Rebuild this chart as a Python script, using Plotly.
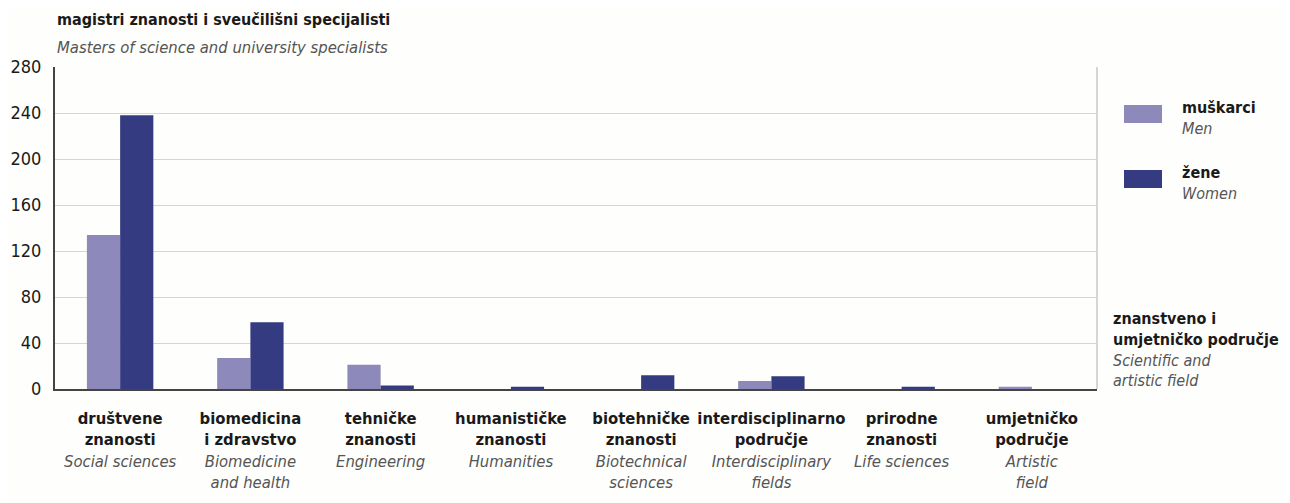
import plotly.graph_objects as go

categories_hr = ["društvene<br>znanosti", "biomedicina<br>i zdravstvo", "tehničke<br>znanosti",
                 "humanističke<br>znanosti", "biotehničke<br>znanosti", "interdisciplinarno<br>područje",
                 "prirodne<br>znanosti", "umjetničko<br>područje"]
categories_en = ["Social sciences", "Biomedicine<br>and health", "Engineering", "Humanities",
                 "Biotechnical<br>sciences", "Interdisciplinary<br>fields", "Life sciences", "Artistic<br>field"]
men = [134, 27, 21, 0, 0, 7, 0, 2]
women = [238, 58, 3, 2, 12, 11, 2, 0]
yticks = [0, 40, 80, 120, 160, 200, 240, 280]

FONT = "DejaVu Sans Condensed, Liberation Sans Narrow, sans-serif"
MEN_C = "#8e89bb"
WOMEN_C = "#353b81"
GREY = "#555555"
DARK = "#1a1a1a"

def bold_lines(s):
    return "<br>".join(f"<b>{p}</b>" for p in s.split("<br>"))

def ital_lines(s):
    return "<br>".join(f"<span style='color:{GREY}'><i>{p}</i></span>" for p in s.split("<br>"))

cat_ids = [f"c{i}" for i in range(len(categories_hr))]
ticktext = [bold_lines(h) + "<br>" + ital_lines(e) for h, e in zip(categories_hr, categories_en)]

fig = go.Figure()
fig.add_trace(go.Bar(x=cat_ids, y=men, name="muškarci", marker=dict(color=MEN_C, line=dict(width=0))))
fig.add_trace(go.Bar(x=cat_ids, y=women, name="žene", marker=dict(color=WOMEN_C, line=dict(width=0))))

OFF = 8  # page body margin
L, T = 55 - OFF, 67 - OFF
pw, ph = 1042, 322
W, H = 1290 - OFF, 503 - OFF
R = W - L - pw
B = H - T - ph

def px(x):
    return (x - OFF - L) / pw

def py(y):
    return (T + ph - (y - OFF)) / ph

fig.update_layout(
    width=W, height=H,
    margin=dict(l=L, r=R, t=T, b=B, autoexpand=False),
    paper_bgcolor="#fefefc", plot_bgcolor="#fefefc",
    barmode="group", bargap=0.49, bargroupgap=0,
    showlegend=False,
    font=dict(family=FONT, color=DARK, size=16),
    xaxis=dict(type="category", tickmode="array", tickvals=cat_ids, ticktext=ticktext,
               tickangle=0, automargin=False,
               showline=True, linecolor="#444444", linewidth=2, ticks="",
               tickfont=dict(size=16.5, family=FONT, color=DARK),
               showgrid=False, ticklabelstandoff=13, range=[-0.5, 7.5], fixedrange=True),
    yaxis=dict(range=[0, 280], tickvals=yticks, showgrid=True, gridcolor="#d6d6d6", gridwidth=1,
               automargin=False,
               showline=True, linecolor="#444444", linewidth=2, ticks="", zeroline=False,
               tickfont=dict(size=18, family=FONT, color=DARK), ticklabelstandoff=8,
               fixedrange=True),
)

# right border of plot area
fig.add_shape(type="line", xref="paper", yref="paper", x0=1, x1=1, y0=0, y1=1,
              line=dict(color="#c8c8c8", width=1.5))

# titles
fig.add_annotation(xref="paper", yref="paper", x=px(55), y=py(20), xanchor="left", yanchor="middle",
                   text="<b>magistri znanosti i sveučilišni specijalisti</b>", showarrow=False,
                   font=dict(size=16, family=FONT, color=DARK))
fig.add_annotation(xref="paper", yref="paper", x=px(55), y=py(47), xanchor="left", yanchor="middle",
                   text="<i>Masters of science and university specialists</i>", showarrow=False,
                   font=dict(size=16.5, family=FONT, color=GREY))

# legend (manual)
for (y0, y1, col, hr, en) in [(105, 123, MEN_C, "muškarci", "Men"), (170, 188, WOMEN_C, "žene", "Women")]:
    fig.add_shape(type="rect", xref="paper", yref="paper", x0=px(1124), x1=px(1162), y0=py(y1), y1=py(y0),
                  fillcolor=col, line=dict(width=0))
    fig.add_annotation(xref="paper", yref="paper", x=px(1180), y=py((y0 + y1) / 2 + 4),
                       xanchor="left", yanchor="middle", align="left", showarrow=False,
                       text=f"<b>{hr}</b><br><span style='color:{GREY}'><i>{en}</i></span>",
                       font=dict(size=16, family=FONT, color=DARK))

# x-axis title block
fig.add_annotation(xref="paper", yref="paper", x=px(1111), y=py(349), xanchor="left", yanchor="middle",
                   align="left", showarrow=False,
                   text=("<b>znanstveno i</b><br><b>umjetničko područje</b><br>"
                         f"<span style='color:{GREY}'><i>Scientific and</i></span><br>"
                         f"<span style='color:{GREY}'><i>artistic field</i></span>"),
                   font=dict(size=16, family=FONT, color=DARK))

fig.write_html("out.html")
